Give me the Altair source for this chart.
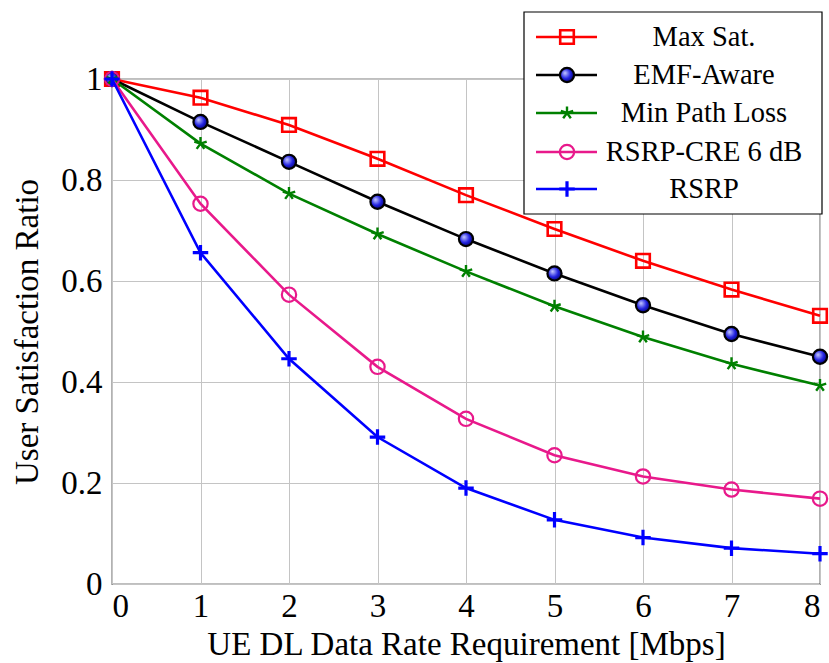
import altair as alt
import pandas as pd

# UE downlink rate requirement (Mbps)
rate = [0, 1, 2, 3, 4, 5, 6, 7, 8]

# User satisfaction ratio per association scheme
max_sat = [1.0, 0.963, 0.909, 0.842, 0.770, 0.703, 0.640, 0.583, 0.531]
emf_aware = [1.0, 0.915, 0.836, 0.757, 0.683, 0.615, 0.552, 0.495, 0.450]
min_path_loss = [1.0, 0.872, 0.773, 0.693, 0.619, 0.550, 0.489, 0.436, 0.393]
rsrp_cre = [1.0, 0.753, 0.573, 0.430, 0.327, 0.255, 0.213, 0.187, 0.169]
rsrp = [1.0, 0.656, 0.446, 0.291, 0.190, 0.127, 0.092, 0.071, 0.060]

names = ["Max Sat.", "EMF-Aware", "Min Path Loss", "RSRP-CRE 6 dB", "RSRP"]
values = [max_sat, emf_aware, min_path_loss, rsrp_cre, rsrp]
line_colors = ["#ff0000", "#000000", "#008000", "#e8198b", "#0000ff"]

FONT = "Liberation Serif"

STAR = ("M0,0L0,-1M0,0L0.951,-0.309M0,0L0.588,0.809"
        "M0,0L-0.588,0.809M0,0L-0.951,-0.309")
PLUS = "M-1,0L1,0M0,-1L0,1"

ball_fill = alt.Gradient(
    gradient="radial",
    stops=[
        alt.GradientStop(color="#c8ccff", offset=0),
        alt.GradientStop(color="#2020e0", offset=0.55),
        alt.GradientStop(color="#000050", offset=1),
    ],
    x1=0.35, y1=0.35, r1=0.0,
    x2=0.45, y2=0.45, r2=0.65,
)


def marker_props(i):
    """Mark properties for the marker of series i."""
    if i == 0:
        return dict(shape="square", size=185, filled=False,
                    stroke=line_colors[0], strokeWidth=2.6, opacity=1)
    if i == 1:
        return dict(shape="circle", size=200, fill=ball_fill, fillOpacity=1,
                    stroke="#000000", strokeWidth=2.2, opacity=1)
    if i == 2:
        return dict(shape=STAR, size=170, filled=False,
                    stroke=line_colors[2], strokeWidth=2.4, opacity=1)
    if i == 3:
        return dict(shape="circle", size=205, filled=False,
                    stroke=line_colors[3], strokeWidth=2.2, opacity=1)
    return dict(shape=PLUS, size=240, filled=False,
                stroke=line_colors[4], strokeWidth=3.2, opacity=1)


frames = []
for name, vals in zip(names, values):
    frames.append(pd.DataFrame({"rate": rate, "ratio": vals, "scheme": name}))
data = pd.concat(frames, ignore_index=True)

x_enc = alt.X(
    "rate:Q",
    scale=alt.Scale(domain=[0, 8], nice=False, zero=False),
    axis=alt.Axis(values=rate, format="d",
                  title="UE DL Data Rate Requirement [Mbps]",
                  titlePadding=5, labelPadding=6),
)
y_enc = alt.Y(
    "ratio:Q",
    scale=alt.Scale(domain=[0, 1], nice=False),
    axis=alt.Axis(values=[0, 0.2, 0.4, 0.6, 0.8, 1.0], format="~g",
                  title="User Satisfaction Ratio",
                  titlePadding=16, labelPadding=10),
)

layers = []
for i, name in enumerate(names):
    sub = alt.Chart(data).transform_filter(alt.datum.scheme == name)
    layers.append(
        sub.mark_line(color=line_colors[i], strokeWidth=2.6).encode(x=x_enc, y=y_enc)
    )
    layers.append(
        sub.mark_point(**marker_props(i)).encode(x=x_enc, y=y_enc)
    )

# Legend box drawn in the upper right corner, partly above the plot frame
legend_df = pd.DataFrame({"scheme": names})
box = alt.Chart(legend_df.head(1)).mark_rect(
    fill="white", stroke="black", strokeWidth=1.2
).encode(x=alt.value(412), x2=alt.value(710), y=alt.value(-67), y2=alt.value(135))
layers.append(box)

row_y = [-42, -4, 34, 73, 110]
for i, name in enumerate(names):
    row = alt.Chart(legend_df.iloc[[i]])
    layers.append(
        row.mark_rule(color=line_colors[i], strokeWidth=2.6).encode(
            x=alt.value(424), x2=alt.value(485), y=alt.value(row_y[i])
        )
    )
    layers.append(
        row.mark_point(**marker_props(i)).encode(
            x=alt.value(455), y=alt.value(row_y[i])
        )
    )
    layers.append(
        row.mark_text(font=FONT, fontSize=28.5, color="black", align="center",
                      baseline="middle").encode(
            x=alt.value(592), y=alt.value(row_y[i]), text="scheme:N"
        )
    )

chart = (
    alt.layer(*layers)
    .properties(
        width=708,
        height=505,
        autosize="none",
        padding={"left": 112, "top": 79, "right": 9, "bottom": 79},
        background="white",
    )
    .configure_view(stroke="#000000", strokeWidth=1.2)
    .configure_axis(
        domain=False,
        ticks=False,
        grid=True,
        gridColor="#c4c4c4",
        gridWidth=1,
        labelFont=FONT,
        labelFontSize=33,
        labelColor="black",
        titleFont=FONT,
        titleFontSize=33,
        titleFontWeight="normal",
        titleColor="black",
    )
)

chart.save("out.html", embed_options={"renderer": "svg", "actions": False})
